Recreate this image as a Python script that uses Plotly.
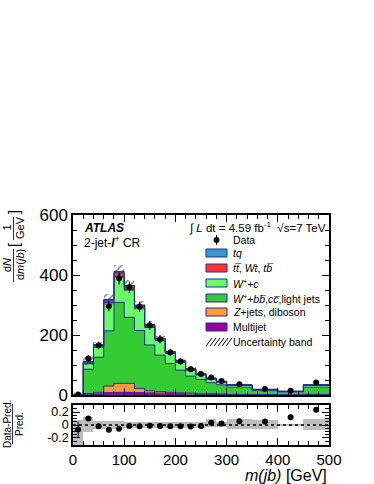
import plotly.graph_objects as go

# ---- data ----
EDGES = [0, 20, 40, 60, 80, 100, 120, 140, 160, 180, 200, 220, 240, 260, 280,
         300, 350, 400, 450, 500]

MULTIJET = [0.3, 2, 4, 8, 9, 9, 8, 7, 6, 5, 4, 3, 2, 2, 2, 1, 0.5, 0.3, 1]
ZJETS = [0.3, 3, 5, 22, 30, 30, 14, 7, 5, 4, 3, 3, 2, 2, 1, 1, 0.5, 0.4, 1]
WLIGHT = [1.2, 81, 117, 184, 270, 220, 193, 153, 122, 96, 76, 57, 48, 37, 31, 24, 13.5, 9, 24]
WC = [0.2, 18, 34, 94, 85, 91, 75, 58, 49, 34, 26, 20, 15, 12, 9, 6, 3.5, 2.2, 6]
TTBAR = [0.1, 5, 6, 8, 13, 11, 7, 7, 5, 4, 3, 3, 2, 2, 2, 1.5, 0.7, 0.4, 1.5]
TQ = [0.05, 2, 2, 3, 5, 4, 3, 3, 2, 2, 2, 2, 2, 1, 1, 0.5, 0.3, 0.2, 0.5]

DATA = [2, 122, 165, 296, 388, 359, 294, 232, 186, 142, 112, 86, 70, 58, 47, 36, 20, 14, 42]
DATA_ERR = [1.5, 11, 13, 17, 20, 19, 17, 15, 14, 12, 11, 9, 8, 8, 7, 6, 4.5, 4, 6.5]
RATIO_ERR = [0.12, 0.03, 0.02, 0.02, 0.02, 0.02, 0.02, 0.02, 0.02, 0.02, 0.02, 0.02,
             0.02, 0.02, 0.02, 0.02, 0.03, 0.045, 0.03]

# relative systematic uncertainty (up / down)
UNC_UP = [0.08, 0.13, 0.06, 0.06, 0.055, 0.05, 0.05, 0.05, 0.045, 0.045, 0.045, 0.045,
          0.045, 0.10, 0.04, 0.09, 0.07, 0.02, 0.09]
UNC_DN = [0.35, 0.11, 0.06, 0.06, 0.055, 0.05, 0.05, 0.05, 0.045, 0.045, 0.045, 0.045,
          0.045, 0.03, 0.03, 0.06, 0.065, 0.02, 0.08]

COMPONENTS = [
    ("Multijet", MULTIJET, "#990099"),
    ("<i>Z</i>+jets, diboson", ZJETS, "#ff9933"),
    ("<i>W</i><sup>+</sup>+<i>b</i><i>b\u0305</i>,<i>c</i><i>c\u0305</i>,light jets", WLIGHT, "#33cc33"),
    ("<i>W</i><sup>+</sup>+<i>c</i>", WC, "#66ff66"),
    ("<i>t</i><i>t\u0305</i>, <i>Wt</i>, <i>t</i><i>b\u0305</i>", TTBAR, "#ff3333"),
    ("<i>tq</i>", TQ, "#3399cc"),
]

FONT = "Liberation Sans, Arial, Helvetica, sans-serif"
OUTLINE = "#2a2a9a"

centers = [(a + b) / 2 for a, b in zip(EDGES[:-1], EDGES[1:])]
widths = [b - a for a, b in zip(EDGES[:-1], EDGES[1:])]
n = len(centers)

fig = go.Figure()

# stacked histogram
base = [0.0] * n
cumul = []
for name, vals, col in COMPONENTS:
    fig.add_trace(go.Bar(x=centers, y=vals, base=base[:], width=widths,
                         marker=dict(color=col, line=dict(width=0)),
                         showlegend=False, xaxis="x", yaxis="y"))
    base = [b + v for b, v in zip(base, vals)]
    cumul.append(base[:])

pred = cumul[-1]

# step outlines
for c in cumul:
    fig.add_trace(go.Scatter(x=EDGES[:-1] + [EDGES[-1]], y=c + [c[-1]],
                             mode="lines", line=dict(color=OUTLINE, width=1, shape="hv"),
                             showlegend=False, hoverinfo="skip", xaxis="x", yaxis="y"))

# hatched uncertainty band
fig.add_trace(go.Bar(x=centers, width=widths,
                     base=[p * (1 - d) for p, d in zip(pred, UNC_DN)],
                     y=[p * (u + d) for p, u, d in zip(pred, UNC_UP, UNC_DN)],
                     marker=dict(color="rgba(0,0,0,0)", line=dict(width=0),
                                 pattern=dict(shape="/", fgcolor="#222222",
                                              bgcolor="rgba(0,0,0,0)", size=5,
                                              solidity=0.35)),
                     showlegend=False, xaxis="x", yaxis="y"))

# data
fig.add_trace(go.Scatter(x=centers, y=DATA, mode="markers",
                         marker=dict(color="black", size=6),
                         error_y=dict(type="data", array=DATA_ERR, color="black",
                                      thickness=1, width=0),
                         showlegend=False, xaxis="x", yaxis="y"))

# ---- ratio panel ----
ratio = [d / p - 1 for d, p in zip(DATA, pred)]
fig.add_trace(go.Bar(x=centers, width=widths,
                     base=[-d for d in UNC_DN],
                     y=[u + d for u, d in zip(UNC_UP, UNC_DN)],
                     marker=dict(color="#bdbdbd", line=dict(width=0)),
                     showlegend=False, xaxis="x2", yaxis="y2"))
fig.add_trace(go.Scatter(x=[0, 500], y=[0, 0], mode="lines",
                         line=dict(color="black", width=1.5, dash="dot"),
                         showlegend=False, xaxis="x2", yaxis="y2"))
fig.add_trace(go.Scatter(x=centers, y=ratio, mode="markers",
                         marker=dict(color="black", size=6),
                         error_y=dict(type="data", array=RATIO_ERR, color="black",
                                      thickness=1, width=0),
                         showlegend=False, xaxis="x2", yaxis="y2"))

# ---- layout ----
W, H = 374, 484
L, R, T, B = 73, 329, 215, 445


def px(x):
    return (x - L) / (R - L)


def py(y):
    return (B - y) / (B - T)


axis_common = dict(showline=True, linecolor="black", linewidth=1.5, mirror="allticks",
                   ticks="inside", ticklen=7, tickcolor="black", tickwidth=1.2,
                   showgrid=False, zeroline=False)

fig.update_layout(
    width=W, height=H,
    margin=dict(l=L, r=W - R, t=T, b=H - B, pad=0),
    paper_bgcolor="white", plot_bgcolor="white",
    barmode="overlay", bargap=0,
    font=dict(family=FONT, color="black"),
    xaxis=dict(domain=[0, 1], range=[0, 500], anchor="y", matches="x2",
               showticklabels=False, dtick=100,
               minor=dict(dtick=20, ticklen=4, ticks="inside", tickcolor="black"),
               **axis_common),
    yaxis=dict(domain=[py(395), 1], range=[0, 600], dtick=200, anchor="x",
               tickfont=dict(size=17),
               minor=dict(dtick=50, ticklen=4, ticks="inside", tickcolor="black"),
               **axis_common),
    xaxis2=dict(domain=[0, 1], range=[0, 500], anchor="y2", dtick=100,
                tickfont=dict(size=15),
                minor=dict(dtick=20, ticklen=4, ticks="inside", tickcolor="black"),
                **axis_common),
    yaxis2=dict(domain=[0, py(405)], range=[-0.31, 0.31], anchor="x2",
                tickvals=[-0.2, 0, 0.2], ticktext=["-0.2", "0", "0.2"],
                tickfont=dict(size=12.5),
                minor=dict(dtick=0.05, ticklen=4, ticks="inside", tickcolor="black"),
                **axis_common),
)

ann = []
shapes = []


def text(x, y, s, size=12, xanchor="left", angle=0):
    ann.append(dict(x=px(x), y=py(y), xref="paper", yref="paper", text=s,
                    showarrow=False, xanchor=xanchor, yanchor="middle",
                    textangle=angle, font=dict(size=size, family=FONT, color="black")))


def line(x0, y0, x1, y1, w=1):
    shapes.append(dict(type="line", xref="paper", yref="paper",
                       x0=px(x0), y0=py(y0), x1=px(x1), y1=py(y1),
                       line=dict(color="black", width=w)))


# labels in the plot
text(82, 228, "<b><i>ATLAS</i></b>", 12)
text(82, 242, "2-jet-<b><i>l</i></b><sup>+</sup> CR", 12)
text(328, 227, "\u222b <i>L</i> dt = 4.59 fb<sup>-1</sup>  \u221as=7 TeV", 11.5, xanchor="right")

# legend
leg_y = [240, 253, 268, 283, 298, 312, 327, 342]
bx0, bx1 = 206, 227
# data entry
shapes.append(dict(type="circle", xref="paper", yref="paper",
                   x0=px(213.5), x1=px(219.5), y0=py(243), y1=py(237),
                   fillcolor="black", line=dict(width=0)))
line(216.5, 235, 216.5, 245)
text(231, leg_y[0], "Data", 10.5)
for yy, (name, vals, col) in zip(leg_y[1:7], COMPONENTS[::-1]):
    shapes.append(dict(type="rect", xref="paper", yref="paper",
                       x0=px(bx0), x1=px(bx1), y0=py(yy + 4), y1=py(yy - 4),
                       fillcolor=col, line=dict(color=OUTLINE, width=1)))
    text(231, yy, name, 10.5)
# hatch swatch
yy = leg_y[7]
for k in range(6):
    xa = bx0 + k * 4
    line(xa, yy + 4, xa + 6, yy - 4, 1)
text(231, yy, "Uncertainty band", 10.5)

# axis titles
text(329, 475, "<i>m(jb)</i> [GeV]", 16, xanchor="right")

# main y title: dN/dm(jb) [1/GeV]
text(7, 265, "d<i>N</i>", 11, xanchor="center", angle=-90)
text(20, 265, "d<i>m</i>(<i>jb</i>)", 11, xanchor="center", angle=-90)
line(13.5, 249, 13.5, 282, 0.8)
text(13, 245, "[", 15, xanchor="center", angle=-90)
text(6.5, 228, "1", 11, xanchor="center", angle=-90)
text(20, 228, "GeV", 11, xanchor="center", angle=-90)
line(13.5, 217, 13.5, 240, 0.8)
text(13, 212, "]", 15, xanchor="center", angle=-90)

# ratio y title
text(7, 424, "Data-Pred.", 10, xanchor="center", angle=-90)
text(19, 424, "Pred.", 10, xanchor="center", angle=-90)
line(12.5, 404, 12.5, 444, 0.8)

fig.update_layout(annotations=ann, shapes=shapes)

# the page body has a default 8 px margin; remove it so the figure fills the window
fig.write_html("out.html", config={"displayModeBar": False},
               post_script="document.body.style.margin='0';")
